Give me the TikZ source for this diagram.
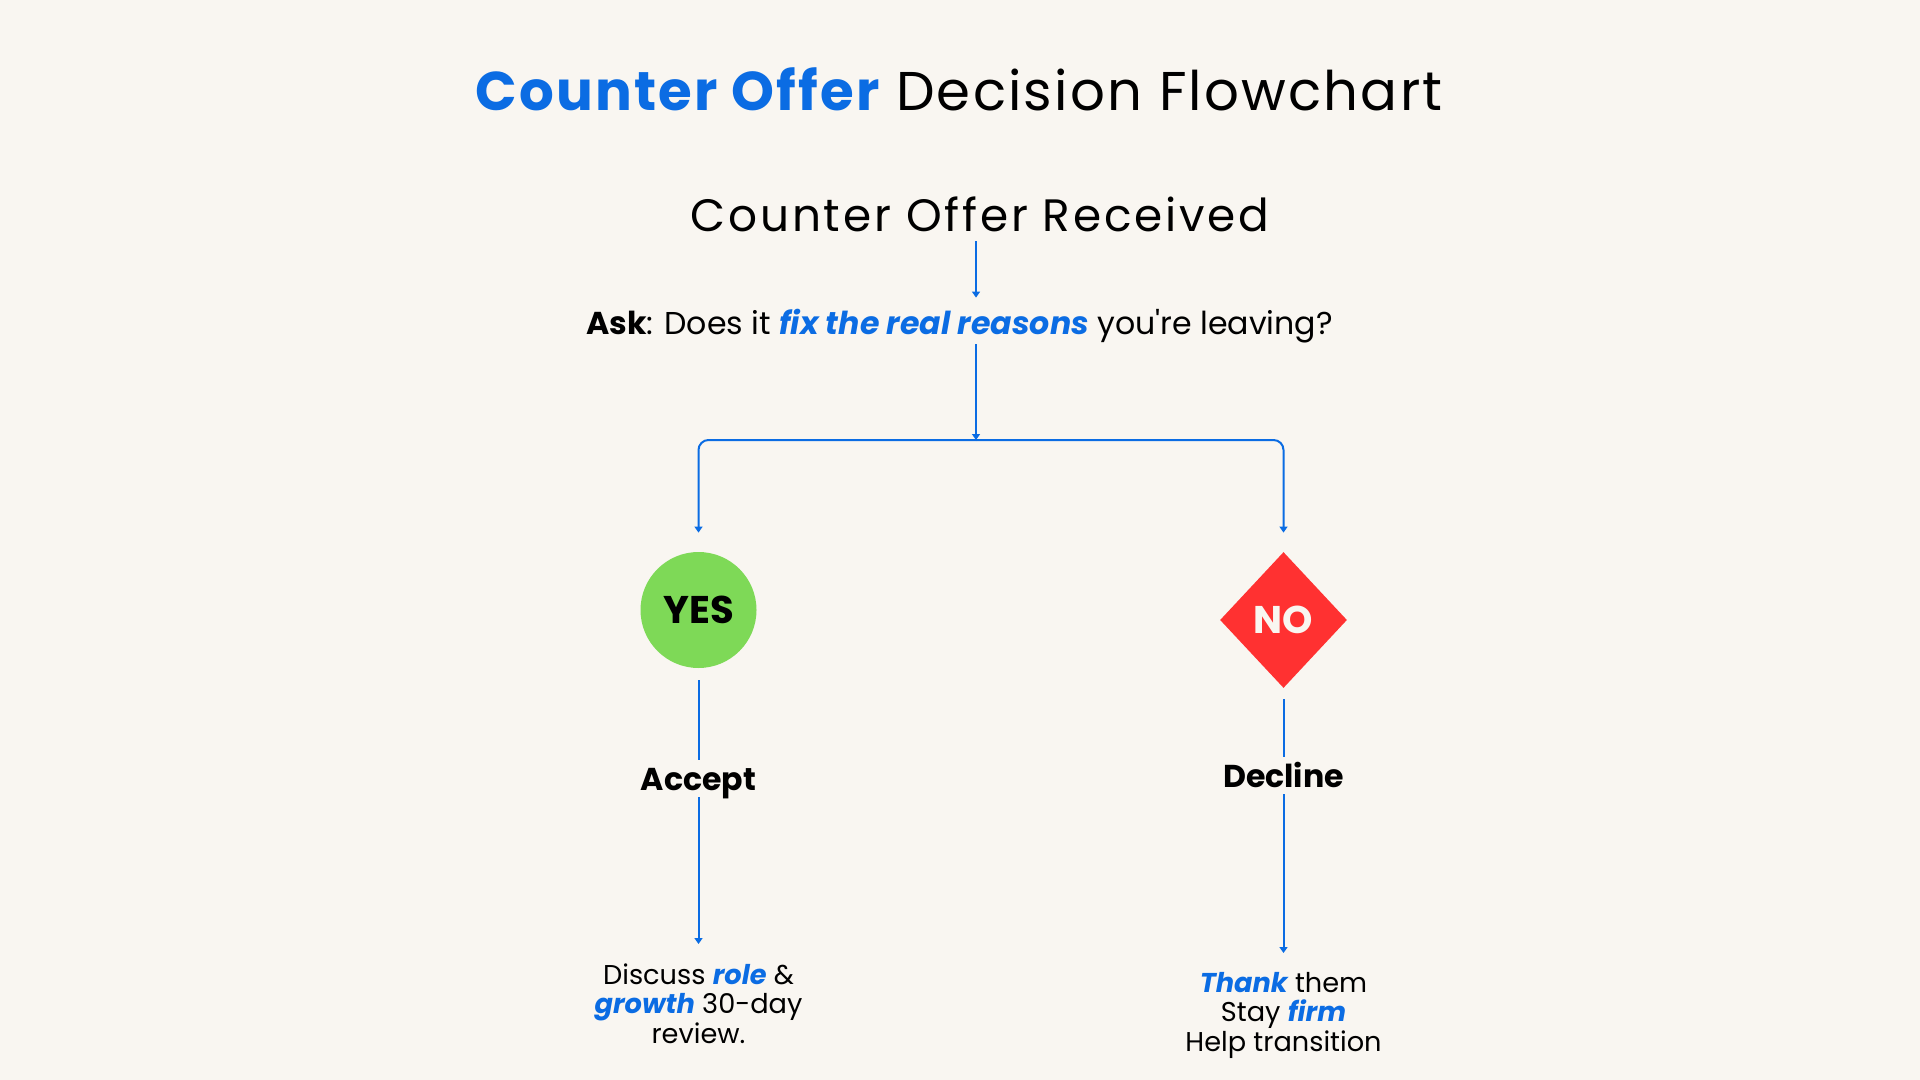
\documentclass[tikz,border=0pt]{standalone}
\usepackage{fontspec}
\setmainfont{Poppins}[Ligatures=TeXOff]
\usetikzlibrary{arrows.meta,shapes.geometric}

\definecolor{offerblue}{HTML}{0B6CE3}
\definecolor{yesgreen}{HTML}{7ED957}
\definecolor{nored}{HTML}{FF3131}
\definecolor{paper}{HTML}{F9F6F1}

\newcommand{\hl}[1]{{\color{offerblue}\bfseries\itshape #1}}

\begin{document}
\begin{tikzpicture}[x=0.5pt,y=0.5pt,yscale=-1,xscale=1,
  flow/.style={draw=offerblue,line width=1pt,-{Triangle[length=3pt,width=4pt]}},
  link/.style={draw=offerblue,line width=1pt},
  txt/.style={inner sep=0pt,anchor=base},
  note/.style={anchor=north,align=center,inner xsep=0pt,font=\fontsize{13.6}{14.75}\selectfont}]
%set diagram to 1920 x 1080
\fill[paper] (0,0) rectangle (1920,1080);
\useasboundingbox (0,0) rectangle (1920,1080);

% Text Node
\node[txt] (title) at (959,110.7) {\fontsize{27.3}{32}\selectfont\addfontfeature{LetterSpace=4}{\color{offerblue}\bfseries Counter Offer} Decision Flowchart};
% Text Node
\node[txt,text depth=4.5pt] (received) at (980,232) {\fontsize{22.7}{28}\selectfont\addfontfeature{LetterSpace=6.2}Counter Offer Received};
% Text Node
\node[txt,text height=18.5pt,text depth=4.5pt] (ask) at (959.5,335) {\fontsize{15.8}{20}\selectfont\textbf{Ask}: Does it \hl{fix the real reasons} you're leaving?};
\coordinate (split) at (976,440);

% Shape: Circle
\node[circle,fill=yesgreen,minimum size=58pt,inner sep=0pt] (yes) at (698.5,610) {\fontsize{19.3}{24}\selectfont\bfseries YES};
% Shape: Diamond
\node[diamond,fill=nored,minimum width=63.5pt,minimum height=68pt,inner sep=0pt] (no) at (1283.5,620) {\fontsize{19.3}{24}\selectfont\bfseries\color{paper}NO};

% Text Node
\node[txt,text height=15pt,text depth=3.5pt] (accept) at (698.5,790) {\fontsize{15.8}{20}\selectfont\bfseries Accept};
% Text Node
\node[txt,text height=15pt,text depth=3.5pt] (decline) at (1283.5,787) {\fontsize{15.8}{20}\selectfont\bfseries Decline};
% Text Node
\node[note,inner ysep=9.5pt] (discuss) at (698.5,944) {Discuss \hl{role} \&\\\hl{growth} 30-day\\review.};
% Text Node
\node[note,inner ysep=9.25pt] (thank) at (1283.5,953) {\hl{Thank} them\\Stay \hl{firm}\\Help transition};

%Straight Lines
\draw[flow] (received.south -| split) -- (ask.north -| split);
\draw[flow] (ask.south -| split) -- (split);
\draw[flow,rounded corners=5pt,shorten >=9.5pt] (split) -| (yes);
\draw[flow,rounded corners=5pt,shorten >=9.5pt] (split) -| (no);

%Straight Lines
\draw[link,shorten <=6pt] (yes) -- (accept);
\draw[flow] (accept) -- (discuss);
\draw[link,shorten <=5.5pt] (no) -- (decline);
\draw[flow] (decline) -- (thank);

\end{tikzpicture}
\end{document}
